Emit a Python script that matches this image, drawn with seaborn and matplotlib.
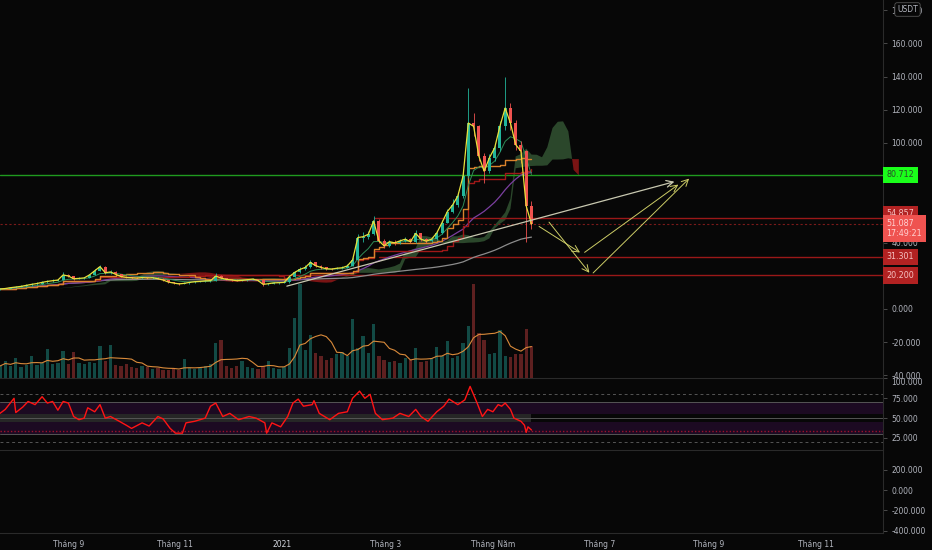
import matplotlib
matplotlib.use("Agg")
import matplotlib.pyplot as plt
import numpy as np
import pandas as pd
import seaborn as sns

# --- data (3-day candles) ---
start = pd.Timestamp("2020-07-24")
first_open = 11.6
closes = [12.0, 12.3, 12.8, 13.2, 13.6, 14.2, 14.8, 15.3, 16.0, 16.6,
          17.0, 17.4, 20.5, 19.8, 18.2, 18.4, 18.7, 20.5, 23.0, 25.5,
          21.8, 22.3, 20.8, 19.5, 19.0, 18.8, 18.6, 18.9, 18.7, 18.8,
          18.2, 17.4, 16.2, 15.6, 15.1, 15.4, 16.0, 16.4, 16.6, 16.9,
          17.0, 19.8, 18.6, 17.8, 17.5, 17.0, 17.2, 17.6, 18.0, 17.2,
          14.8, 15.2, 15.7, 15.8, 16.0, 19.5, 22.0, 23.8, 25.0, 28.0,
          26.0, 25.0, 24.2, 24.0, 24.5, 24.8, 25.9, 29.5, 43.0, 43.5,
          45.0, 53.0, 41.0, 38.0, 40.5, 39.8, 41.0, 42.0, 40.5, 45.5,
          42.0, 40.8, 42.0, 45.8, 52.0, 58.6, 62.6, 68.0, 80.0, 112.0,
          110.0, 92.0, 83.0, 91.0, 97.0, 110.0, 121.0, 112.0, 99.0, 95.0,
          62.0, 51.087]
highs = [12.4, 12.7, 13.2, 13.8, 14.2, 14.8, 15.5, 16.0, 16.8, 17.4,
         17.8, 18.3, 22.0, 21.2, 20.0, 19.2, 19.5, 21.3, 24.0, 26.5,
         25.8, 23.2, 22.6, 21.0, 19.9, 19.5, 19.3, 19.5, 19.3, 19.4,
         19.0, 18.4, 17.6, 16.5, 15.9, 16.0, 16.5, 16.9, 17.1, 17.4,
         17.6, 21.5, 20.2, 18.9, 18.2, 17.8, 17.7, 18.1, 18.5, 18.2,
         17.4, 15.8, 16.2, 16.3, 16.6, 20.2, 23.0, 25.0, 26.2, 29.5,
         28.4, 26.5, 25.4, 24.8, 25.2, 25.6, 26.8, 31.0, 45.0, 46.5,
         47.0, 56.0, 54.0, 42.0, 41.5, 41.5, 42.2, 43.5, 42.5, 47.5,
         46.0, 42.5, 43.0, 47.0, 53.5, 60.5, 66.0, 70.5, 84.0, 133.0,
         118.0, 111.0, 94.0, 93.5, 99.0, 113.0, 140.0, 124.0, 114.0, 101.0,
         96.0, 65.0]
lows = [11.4, 11.8, 12.1, 12.6, 13.0, 13.4, 14.0, 14.5, 15.1, 15.8,
        16.2, 16.8, 17.2, 19.0, 17.6, 17.8, 18.0, 18.5, 20.2, 22.6,
        21.0, 21.2, 20.2, 19.0, 18.5, 18.2, 18.0, 18.2, 18.1, 18.2,
        17.8, 17.0, 15.8, 15.2, 14.7, 14.8, 15.2, 15.8, 16.1, 16.3,
        16.5, 16.8, 18.0, 17.3, 17.0, 16.6, 16.7, 17.0, 17.4, 16.8,
        14.0, 14.5, 15.0, 15.3, 15.4, 15.8, 19.2, 21.5, 23.2, 24.6,
        25.0, 24.2, 23.6, 23.3, 23.8, 24.0, 24.5, 25.6, 29.0, 40.5,
        42.0, 44.5, 39.5, 36.5, 37.5, 38.8, 39.2, 40.5, 39.5, 40.0,
        41.0, 40.0, 40.2, 41.5, 45.0, 51.5, 57.5, 61.5, 67.0, 79.0,
        104.0, 89.0, 76.0, 82.0, 89.0, 95.0, 108.0, 108.0, 96.0, 88.0,
        40.5, 48.0]
volumes = [12, 17, 12, 20, 11, 13, 22, 13, 15, 29,
           14, 15, 27, 14, 26, 15, 14, 16, 15, 32,
           17, 33, 13, 12, 14, 11, 10, 12, 11, 9,
           10, 8, 8, 9, 8, 19, 10, 9, 10, 12,
           14, 35, 38, 12, 10, 12, 17, 11, 10, 9,
           12, 17, 10, 9, 11, 30, 60, 94, 28, 43,
           25, 22, 18, 20, 24, 26, 22, 59, 30, 42,
           25, 54, 22, 18, 16, 17, 15, 20, 18, 30,
           16, 17, 20, 31, 22, 37, 20, 22, 35, 52,
           94, 45, 38, 24, 25, 48, 22, 21, 24, 24,
           49, 32]

rsi_days = [0, 3, 8, 9, 13, 16, 20, 24, 27, 30, 33, 36, 39, 42, 45, 48, 50, 54,
            57, 60, 63, 68, 72, 75, 81, 85, 90, 93, 97, 100, 104, 106, 111, 117,
            120, 123, 127, 131, 136, 142, 146, 151, 152, 155, 160, 164, 167, 170,
            173, 178, 179, 182, 188, 193, 198, 201, 205, 208, 211, 214, 218, 224,
            228, 233, 237, 240, 244, 249, 253, 256, 261, 265, 268, 272, 275, 278,
            281, 284, 286, 288, 291, 293, 297, 299, 300, 301, 303]
rsi_vals = [56, 61, 75, 57, 64, 71, 67, 77, 69, 71, 60, 71, 69, 52, 48, 50, 63, 58,
            67, 50, 52, 46, 41, 37, 44, 40, 52, 49, 37, 31, 31, 44, 46, 50,
            65, 69, 52, 56, 48, 52, 50, 44, 31, 44, 39, 52, 69, 74,
            65, 67, 72, 56, 48, 56, 58, 75, 84, 75, 80, 56, 48, 50,
            56, 52, 61, 52, 46, 58, 65, 74, 67, 73, 90, 69, 52, 61,
            58, 67, 65, 69, 61, 50, 46, 41, 32, 39, 35]

# horizontal levels (price)
level_green = 80.712
level_reds = [54.857, 31.301, 20.200]
last_price = 51.087
last_time = "17:49:21"

# drawings (day offset, price)
trend_line = [(162, 13.3), (386, 77.1)]
path_one = [(306, 50.6), (332, 33.1), (388, 75.9)]
path_two = [(312, 53.6), (337, 20.5), (394, 79.7)]

month_ticks = ["2020-09-01", "2020-11-01", "2021-01-01", "2021-03-01",
               "2021-05-01", "2021-07-01", "2021-09-01", "2021-11-01"]
month_labels = ["Tháng 9", "Tháng 11", "2021", "Tháng 3", "Tháng Năm",
                "Tháng 7", "Tháng 9", "Tháng 11"]

# --- frame ---
df = pd.DataFrame({"close": closes, "high": highs, "low": lows, "vol": volumes})
df["date"] = pd.date_range(start, periods=len(df), freq="3D")
df["day"] = (df["date"] - start).dt.days
df["open"] = df["close"].shift(1).fillna(first_open)
df["up"] = df["close"] >= df["open"]

# indicators
def mid(n):
    return (df["high"].rolling(n, min_periods=1).max() + df["low"].rolling(n, min_periods=1).min()) / 2

tenkan = mid(3)
kijun = mid(9)
span_a = (tenkan + kijun) / 2
span_b = mid(17)
df["mid52"] = mid(17)
df["mid100"] = mid(34)
df["ema_fast"] = df["close"].ewm(span=7).mean()
df["sma_mid"] = df["close"].rolling(20, min_periods=1).mean()
df["sma_long"] = df["close"].rolling(67, min_periods=1).mean()
df["vol_ma"] = df["vol"].rolling(7, min_periods=1).mean()

BG = "#070707"
TXT = "#b2b5be"
LINE = "#2a2a2a"
UP, DOWN = "#22b59b", "#f0524f"
LEVEL_RED = "#9a1818"

sns.set_theme(style="dark", rc={"axes.facecolor": BG, "figure.facecolor": BG,
                                "axes.grid": False})
plt.rcParams["font.family"] = ["DejaVu Sans"]

W, H = 932, 550
fig = plt.figure(figsize=(W / 100, H / 100), dpi=100)
xr = 883 / W
ax_p = fig.add_axes([0, 1 - 378 / H, xr, 378 / H])
ax_r = fig.add_axes([0, 1 - 449.5 / H, xr, 71.5 / H])
ax_b = fig.add_axes([0, 1 - 533 / H, xr, 83.5 / H])
x_max = 503.4

# volume overlay (behind the price pane)
ax_v = ax_p.twinx()


def style(ax):
    ax.set_facecolor(BG)
    ax.set_xlim(0, x_max)
    for s in ("left", "bottom"):
        ax.spines[s].set_visible(False)
    for s in ("right", "top"):
        ax.spines[s].set_color(LINE)
        ax.spines[s].set_linewidth(0.8)
    ax.yaxis.tick_right()
    ax.tick_params(axis="y", colors=TXT, labelsize=5.5, length=3, width=0.6, pad=3)
    ax.tick_params(axis="y", which="both", color="#555555")
    ax.set_xticks([])


for ax in (ax_p, ax_r, ax_b):
    style(ax)
ax_p.spines["top"].set_visible(False)

# --- price pane ---
ax_p.set_ylim(-41.6, 186.1)
pt = list(range(-40, 181, 20))
ax_p.set_yticks(pt)
# 80 and 20 sit fully under the level tags, as on the reference
ax_p.set_yticklabels(["" if v in (80, 20) else f"{v:.3f}" for v in pt])

# ichimoku cloud shifted forward
cx = df["day"] + 27
ax_p.fill_between(cx, span_a, span_b, where=span_a >= span_b, interpolate=True,
                  color="#2b472b", lw=0, zorder=1)
ax_p.fill_between(cx, span_a, span_b, where=span_a < span_b, interpolate=True,
                  color="#7a1414", lw=0, zorder=1)

# levels
ax_p.plot([0, x_max], [level_green] * 2, color="#1f9a1f", lw=1.0, zorder=2)
ax_p.plot([213, x_max], [level_reds[0]] * 2, color=LEVEL_RED, lw=1.0, zorder=2)
ax_p.plot([216, x_max], [level_reds[1]] * 2, color=LEVEL_RED, lw=1.0, zorder=2)
ax_p.plot([123, x_max], [level_reds[2]] * 2, color=LEVEL_RED, lw=1.0, zorder=2)
ax_p.plot([0, x_max], [last_price] * 2, color="#7a1a1a", lw=0.8, ls=(0, (2, 2)), zorder=2)

# moving lines
sns.lineplot(x=df["day"], y=df["sma_long"], ax=ax_p, color="#8c8c8c", lw=0.9, zorder=3)
sns.lineplot(x=df["day"], y=df["sma_mid"], ax=ax_p, color="#7b3fa0", lw=0.9, zorder=3)
sns.lineplot(x=df["day"], y=df["mid100"], ax=ax_p, color="#a01818", lw=1.0,
             drawstyle="steps-post", zorder=3)
sns.lineplot(x=df["day"], y=df["mid52"], ax=ax_p, color="#d9822b", lw=1.0,
             drawstyle="steps-post", zorder=3)
sns.lineplot(x=df["day"], y=df["ema_fast"], ax=ax_p, color="#2e8b57", lw=0.7, zorder=3)

# candles
cols = np.where(df["up"], UP, DOWN)
ax_p.vlines(df["day"], df["low"], df["high"], colors=cols, lw=0.6, zorder=4)
body_lo = np.minimum(df["open"], df["close"])
body_h = np.maximum(np.abs(df["close"] - df["open"]), 0.3)
ax_p.bar(df["day"], body_h, bottom=body_lo, width=1.7, color=cols, lw=0, zorder=4)
sns.lineplot(x=df["day"], y=df["close"], ax=ax_p, color="#e8e03c", lw=0.9, zorder=5)

# drawings
arrow_col = "#cccc66"
ax_p.annotate("", xy=trend_line[1], xytext=trend_line[0],
              arrowprops=dict(arrowstyle="->", color="#c8c8b0", lw=0.9), zorder=6)
for path in (path_one, path_two):
    for a, b in zip(path[:-1], path[1:]):
        ax_p.annotate("", xy=b, xytext=a,
                      arrowprops=dict(arrowstyle="->", color=arrow_col, lw=0.7), zorder=6)
ax_p.set_xlabel("")
ax_p.set_ylabel("")

# volume bars on the overlay
ax_v.set_ylim(0, 378)
ax_v.set_xlim(0, x_max)
vcols = np.where(df["up"], "#124a45", "#5e2020")
ax_v.bar(df["day"], df["vol"], width=1.9, color=vcols, lw=0, zorder=1)
sns.lineplot(x=df["day"], y=df["vol_ma"], ax=ax_v, color="#d98a3a", lw=0.8)
ax_v.set_yticks([])
ax_v.set_ylabel("")
for s in ax_v.spines.values():
    s.set_visible(False)
ax_p.set_zorder(ax_v.get_zorder() + 1)
ax_p.patch.set_visible(False)
ax_v.patch.set_facecolor(BG)
ax_p.yaxis.tick_right()


# price labels on the scale
def tag(ax, y, text, fc, tc, dy=0):
    ax.annotate(text, xy=(1, y), xycoords=("axes fraction", "data"),
                xytext=(2.6, dy), textcoords="offset points", ha="left", va="center",
                fontsize=5.8, color=tc, annotation_clip=False, zorder=20,
                bbox=dict(boxstyle="square,pad=0.45", fc=fc, ec="none"))


tag(ax_p, level_green, f"{level_green:.3f}", "#1aff1a", "#2a4a2a")
tag(ax_p, level_reds[0], f"{level_reds[0]:.3f}", "#b22222", "#f5c0c0", dy=3.0)
tag(ax_p, last_price, f"{last_price:.3f}\n{last_time}", "#ef5350", "#ffd0d0", dy=-3.0)
tag(ax_p, level_reds[1], f"{level_reds[1]:.3f}", "#b22222", "#f5c0c0")
tag(ax_p, level_reds[2], f"{level_reds[2]:.3f}", "#b22222", "#f5c0c0")
fig.text(907.5 / W, 1 - 9.5 / H, "USDT", ha="center", va="center", fontsize=5.5,
         color=TXT, zorder=30,
         bbox=dict(boxstyle="round,pad=0.3", fc=BG, ec="#555555", lw=0.6))

# --- RSI pane ---
ax_r.set_ylim(10.4, 100.6)
ax_r.set_yticks([25, 50, 75, 100])
ax_r.set_yticklabels(["25.000", "50.000", "75.000", "100.000"])
ax_r.get_yticklabels()[3].set_va("top")
ax_r.axhspan(55, 70, color="#1c0a22", lw=0, zorder=0)
ax_r.axhspan(30, 45, color="#1c0a22", lw=0, zorder=0)
ax_r.fill_between([0, df["day"].iloc[-1]], 45, 55, color="#262626", lw=0, zorder=0)
for v in (70, 50, 30):
    ax_r.axhline(v, color="#555555", lw=0.7, zorder=1)
for v in (80, 20):
    ax_r.axhline(v, color="#555555", lw=0.7, ls=(0, (3, 3)), zorder=1)
ax_r.axhline(34, color="#a0102a", lw=1.0, ls=(0, (1, 1.5)), zorder=1)
sns.lineplot(x=rsi_days, y=rsi_vals, ax=ax_r, color="#ff1414", lw=1.0, zorder=3)
ax_r.set_xlabel("")
ax_r.set_ylabel("")

# --- bottom pane ---
ax_b.set_ylim(-423.6, 399)
ax_b.set_yticks([200, 0, -200, -400])
ax_b.set_yticklabels(["200.000", "0.000", "-200.000", "-400.000"])
ax_b.spines["bottom"].set_visible(True)
ax_b.spines["bottom"].set_color(LINE)
ax_b.spines["bottom"].set_linewidth(0.8)
tick_days = [(pd.Timestamp(d) - start).days for d in month_ticks]
ax_b.set_xticks(tick_days)
ax_b.set_xticklabels(month_labels)
ax_b.tick_params(axis="x", colors=TXT, labelsize=5.5, length=0, pad=5)
ax_b.get_xticklabels()[2].set_color("#d1d4dc")

fig.savefig("out.png", dpi=100, facecolor=BG)
